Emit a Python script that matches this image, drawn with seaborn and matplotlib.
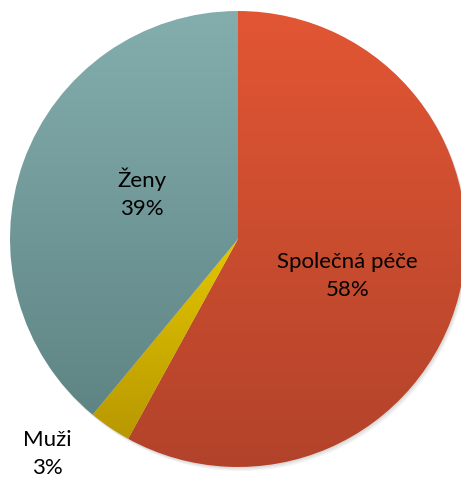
import numpy as np
import matplotlib.pyplot as plt
import matplotlib.colors as mcolors
import seaborn as sns

# data
labels = ['Společná péče', 'Muži', 'Ženy']
values = [58, 3, 39]
top_colors = ['#E25634', '#E3C600', '#84AEAE']
bottom_colors = ['#B2432A', '#B89800', '#5F8484']

# label positions (data units, pie radius = 1)
label_pos = [(0.48, -0.16), (-0.835, -0.94), (-0.42, 0.205)]

sns.set_theme(style="white")
plt.rcParams['font.family'] = ['Lato', 'DejaVu Sans']

fig = plt.figure(figsize=(4.61, 4.81), dpi=100)
ax = fig.add_axes([0, 0, 1, 1])
R = 228.0
cx, cy = 238.0, 240.0

def set_lims():
    ax.set_xlim(-cx / R, (461 - cx) / R)
    ax.set_ylim(-(481 - cy) / R, cy / R)

# soft shadow
for i, a in enumerate([0.05, 0.05, 0.04]):
    sh = plt.Circle((0.004 * (i + 1), -0.006 * (i + 1)), 1.0, color='black',
                    alpha=a, lw=0, zorder=0)
    ax.add_patch(sh)

wedges, _ = ax.pie(values, startangle=90, counterclock=False, radius=1,
                   colors=top_colors, wedgeprops=dict(linewidth=0))
set_lims()

for w, c1, c2 in zip(wedges, top_colors, bottom_colors):
    w.set_zorder(1)
    bb = w.get_path().get_extents()
    cmap = mcolors.LinearSegmentedColormap.from_list('g', [c2, c1])
    grad = np.linspace(0, 1, 256).reshape(-1, 1)
    im = ax.imshow(grad, cmap=cmap, origin='lower', aspect='auto',
                   extent=[bb.x0, bb.x1, bb.y0, bb.y1], zorder=2,
                   interpolation='bilinear')
    im.set_clip_path(w)
    w.set_facecolor('none')

set_lims()
ax.set_aspect('equal')
ax.axis('off')

for lab, v, (x, y) in zip(labels, values, label_pos):
    ax.text(x, y, f"{lab}\n{v}%", ha='center', va='center', fontsize=16,
            color='black', linespacing=1.5, zorder=5)

fig.savefig('out.png', dpi=100)
